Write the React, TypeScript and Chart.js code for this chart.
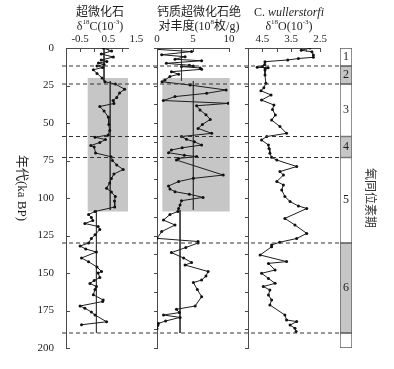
import React, { useEffect, useRef } from 'react';
import { Chart, registerables } from 'chart.js';

Chart.register(...registerables);

// ---------------- data ----------------
const depthTicks = [0, 25, 50, 75, 100, 125, 150, 175, 200];
const depthMinorTicks = [0, 12.5, 25, 37.5, 50, 62.5, 75, 87.5, 100, 112.5, 125, 137.5, 150, 162.5, 175, 187.5, 200];

// nannofossil carbon isotope
const carbonAges = [0, 2, 4, 6, 8, 9, 10, 11, 12, 13, 14.5, 17, 20, 22.5, 24, 27.5, 30, 33, 35, 37, 39, 42, 46, 51, 55, 58, 59.5, 61, 63, 65, 66, 70, 72.5, 75, 78, 81, 84, 87, 90, 93.5, 96, 99, 102, 106, 109, 111, 113, 115, 117, 119, 121, 124.5, 127, 130, 132, 134, 136, 140, 142.5, 146, 149, 150, 153, 155, 157, 159, 161, 164.5, 168, 169, 172, 173.5, 176, 178, 182.5, 184.5];
const carbonValues = [0.32, 0.62, 0.25, 0.68, 0.25, 0.45, 0.15, 0.35, 0.1, 0.3, -0.03, 0.1, 0.28, 0.38, 0.75, 1.08, 0.9, 0.8, 0.67, 0.7, 0.2, 0.35, 0.5, 0.52, 0.55, 0.5, 0.03, 0.4, 0.2, -0.12, 0.0, 0.05, 0.6, 0.65, 0.8, 1.03, 0.7, 0.61, 0.55, 0.44, 0.61, 0.75, 0.72, 0.73, 0.03, -0.2, -0.1, -0.05, -0.33, 0.14, 0.2, 0.03, -0.1, -0.2, -0.5, -0.3, 0.08, -0.45, -0.2, 0.1, 0.26, 0.14, 0.2, 0.0, -0.15, 0.08, 0.03, -0.03, 0.32, 0.3, -0.5, -0.33, -0.1, 0.03, 0.44, -0.45];
const carbonMeanBreaks = [0, 22, 108, 190];
const carbonMeans = [0.35, 0.57, 0.08];
const carbonShadeX = [-0.23, 1.2];
const carbonTickLabels = [-0.5, 0.5, 1.5];
const carbonTickMarks = [-0.5, 0, 0.5, 1.0];

// absolute abundance of calcareous nannofossils
const abundAges = [0.9, 2.4, 4.5, 5.8, 7.5, 8.5, 10.2, 11.5, 12, 12.4, 13.3, 14.2, 15.8, 17.5, 19, 21.3, 22.5, 24.7, 28, 30.2, 32.4, 35, 36.9, 38.5, 41.3, 44.5, 47.6, 51, 53.6, 56.9, 59, 60.9, 62.5, 64.7, 66.5, 68, 69.8, 71.5, 72.4, 73.6, 74.7, 84.7, 86.9, 89, 92, 94, 95.8, 97.5, 99.6, 101.8, 104.7, 107, 109, 111, 114.7, 118, 122.4, 126.9, 129, 130, 133, 136.4, 140, 143, 144.7, 149, 152, 154.7, 156.4, 161, 165.8, 172, 174.2, 176.4, 178, 179.6, 182, 183.6, 185, 187];
const abundValues = [0, 4.8, 0.65, 3.9, 2.5, 6.2, 1.3, 4.5, 5.05, 3.4, 6.0, 6.2, 2.0, 3.0, 1.8, 1.1, 0.7, 4.6, 9.6, 6.9, 2.5, 0.88, 9.9, 5.5, 5.97, 6.8, 7.4, 6.3, 5.7, 7.6, 3.4, 4.1, 5.2, 6.2, 3.5, 2.0, 1.6, 3.8, 5.5, 3.0, 2.7, 9.2, 5.05, 3.0, 1.6, 1.8, 2.5, 4.5, 6.4, 3.4, 3.2, 3.0, 2.9, 1.8, 0.9, 2.5, 0.65, 0, 5.7, 5.7, 4.0, 2.0, 3.7, 4.8, 3.9, 7.1, 6.8, 6.2, 5.05, 5.6, 6.2, 5.3, 2.7, 3.1, 0.9, 3.2, 1.2, 0.2, 0.1, 0];
const abundMeanBreaks = [0, 22, 108, 190];
const abundMeans = [3.4, 5.05, 3.2];
const abundShadeX = [0.74, 10.1];
const abundTickLabels = [0, 5, 10];
const abundTickMarks = [0, 5, 10];

// C. wullerstorfi oxygen isotope
const oxyAges = [0, 1.5, 2.5, 4.7, 6.2, 7, 8, 9.1, 11, 12.4, 12.9, 13.2, 13.6, 14.7, 18, 23.5, 26.5, 28.5, 31.3, 34.7, 38, 41, 44.7, 48, 52.4, 56.9, 59, 61.3, 64.7, 67, 70.2, 72.9, 74.7, 79, 82.4, 84.7, 89, 91.3, 94.7, 99, 102.4, 105.3, 107, 113.6, 118, 123.6, 127, 129.5, 131.3, 132.5, 138, 142.4, 143.6, 148, 150.2, 153.6, 156.9, 159, 161.3, 164.7, 168, 171.3, 178, 181.3, 182.4, 184.7, 186.9, 189];
const oxyValues = [2.85, 3.15, 2.78, 2.73, 2.73, 3.25, 3.62, 4.41, 4.42, 4.5, 4.68, 4.3, 4.4, 4.41, 4.41, 4.38, 4.45, 4.55, 4.2, 4.53, 4.1, 4.15, 4.05, 4.18, 3.89, 3.66, 4.35, 4.53, 4.29, 4.27, 4.24, 4.18, 4.0, 3.31, 3.89, 3.77, 4.0, 3.77, 3.83, 3.72, 3.54, 3.25, 2.96, 3.72, 3.37, 2.96, 3.31, 3.9, 4.18, 4.18, 4.58, 3.66, 4.29, 4.06, 4.53, 4.29, 4.06, 4.47, 4.24, 4.29, 4.18, 4.24, 3.72, 3.66, 3.31, 3.54, 3.37, 3.33];
const oxyTickLabels = [4.5, 3.5, 2.5];
const oxyTickMarks = [4.5, 4.0, 3.5, 3.0, 2.5];

const shadeAges = [20, 109];
const stageBounds = [0, 12, 24, 59, 73, 130, 190, 200];
const stageNames = ['1', '2', '3', '4', '5', '6', ''];
const stageShaded = [false, true, false, true, false, true, false];

// ---------------- styling ----------------
const W = 394;
const H = 369;
const FONT = "'Liberation Serif', 'Noto Sans CJK SC', serif";
const INK = '#1e1e1e';
const AXIS = '#4a4a4a';
const SHADE = '#c6c6c6';
const TOP = 48;
const BOTTOM_PAD = H - 348;

type Seg = { t: string; sup?: boolean; it?: boolean };

function drawSegLine(ctx: CanvasRenderingContext2D, segs: Seg[], cx: number, cy: number, size: number) {
  const fontFor = (s: Seg) => `${s.it ? 'italic ' : ''}${s.sup ? Math.round(size * 0.62) : size}px ${FONT}`;
  let total = 0;
  const widths = segs.map((s) => {
    ctx.font = fontFor(s);
    const w = ctx.measureText(s.t).width;
    total += w;
    return w;
  });
  let x = cx - total / 2;
  segs.forEach((s, i) => {
    ctx.font = fontFor(s);
    ctx.fillText(s.t, x, s.sup ? cy - size * 0.33 : cy);
    x += widths[i];
  });
}

function makePanelPlugin(opts: {
  shadeX: number[];
  xMarks: number[];
  yMarks: number[];
  yMarkLen: number;
  title: Seg[][];
  titleDx: number;
}) {
  return {
    id: 'panelExtras',
    beforeDatasetsDraw(chart: any) {
      const { x, y } = chart.scales;
      const ctx = chart.ctx as CanvasRenderingContext2D;
      const x0 = x.getPixelForValue(opts.shadeX[0]);
      const x1 = x.getPixelForValue(opts.shadeX[1]);
      const y0 = y.getPixelForValue(shadeAges[0]);
      const y1 = y.getPixelForValue(shadeAges[1]);
      ctx.save();
      ctx.fillStyle = SHADE;
      ctx.fillRect(Math.min(x0, x1), Math.min(y0, y1), Math.abs(x1 - x0), Math.abs(y1 - y0));
      ctx.restore();
    },
    afterDraw(chart: any) {
      const { x, y } = chart.scales;
      const area = chart.chartArea;
      const ctx = chart.ctx as CanvasRenderingContext2D;
      ctx.save();
      ctx.strokeStyle = AXIS;
      ctx.lineWidth = 1;
      opts.xMarks.forEach((v) => {
        const p = Math.round(x.getPixelForValue(v)) + 0.5;
        ctx.beginPath();
        ctx.moveTo(p, area.top);
        ctx.lineTo(p, area.top + 4);
        ctx.stroke();
      });
      opts.yMarks.forEach((v) => {
        const p = Math.round(y.getPixelForValue(v)) + 0.5;
        ctx.beginPath();
        ctx.moveTo(area.left, p);
        ctx.lineTo(area.left + opts.yMarkLen, p);
        ctx.stroke();
      });
      ctx.fillStyle = INK;
      ctx.textAlign = 'left';
      ctx.textBaseline = 'middle';
      const cx = (area.left + area.right) / 2 + opts.titleDx;
      opts.title.forEach((line, i) => drawSegLine(ctx, line, cx, 13 + i * 13.5, 12));
      ctx.restore();
    },
  };
}

type PanelSpec = {
  ages: number[];
  values: number[];
  meanBreaks?: number[];
  means?: number[];
  shadeX: number[];
  xMin: number;
  xMax: number;
  reverse: boolean;
  tickLabels: number[];
  tickMarks: number[];
  fmt: (v: number) => string;
  yWidth: number;
  padRight: number;
  showYLabels: boolean;
  yMarks: number[];
  yMarkLen: number;
  title: Seg[][];
  titleDx: number;
};

function panelConfig(p: PanelSpec): any {
  const datasets: any[] = [
    {
      data: p.ages.map((a, i) => ({ x: p.values[i], y: a })),
      showLine: true,
      borderColor: INK,
      borderWidth: 1,
      pointRadius: 1.5,
      pointBackgroundColor: '#111',
      pointBorderWidth: 0,
      order: 1,
    },
  ];
  if (p.means && p.meanBreaks) {
    p.means.forEach((m, i) => {
      datasets.push({
        data: [
          { x: m, y: p.meanBreaks![i] },
          { x: m, y: p.meanBreaks![i + 1] },
        ],
        showLine: true,
        borderColor: '#3c3c3c',
        borderWidth: 1,
        pointRadius: 0,
        order: 2,
      });
    });
  }
  const tickFont = { family: FONT, size: 11 };
  return {
    type: 'scatter',
    data: { datasets },
    options: {
      animation: false,
      responsive: true,
      maintainAspectRatio: false,
      layout: { padding: { left: 0, right: p.padRight, top: 0, bottom: BOTTOM_PAD } },
      plugins: { legend: { display: false }, tooltip: { enabled: false } },
      scales: {
        x: {
          type: 'linear',
          position: 'top',
          min: p.xMin,
          max: p.xMax,
          reverse: p.reverse,
          grid: { display: false, drawTicks: false },
          border: { display: true, color: AXIS, width: 1 },
          ticks: {
            font: tickFont,
            color: INK,
            padding: 2,
            autoSkip: false,
            maxRotation: 0,
            callback: (v: any) => p.fmt(Number(v)),
          },
          afterBuildTicks: (scale: any) => {
            scale.ticks = p.tickLabels.map((v) => ({ value: v }));
          },
          afterFit: (scale: any) => {
            scale.height = TOP;
            scale.paddingLeft = 0;
            scale.paddingRight = 0;
          },
        },
        y: {
          type: 'linear',
          position: 'left',
          min: 0,
          max: 200,
          reverse: true,
          grid: { display: false, drawTicks: false },
          border: { display: true, color: AXIS, width: 1 },
          ticks: {
            display: p.showYLabels,
            font: tickFont,
            color: INK,
            padding: 12,
            stepSize: 25,
            autoSkip: false,
          },
          afterBuildTicks: (scale: any) => {
            scale.ticks = depthTicks.map((v) => ({ value: v }));
          },
          afterFit: (scale: any) => {
            scale.width = p.yWidth;
            scale.paddingTop = 0;
            scale.paddingBottom = 0;
          },
        },
      },
    },
    plugins: [
      makePanelPlugin({
        shadeX: p.shadeX,
        xMarks: p.tickMarks,
        yMarks: p.yMarks,
        yMarkLen: p.yMarkLen,
        title: p.title,
        titleDx: p.titleDx,
      }),
    ],
  };
}

function stageConfig(): any {
  return {
    type: 'bar',
    data: {
      labels: ['stage'],
      datasets: stageNames.map((_, i) => ({
        data: [[stageBounds[i], stageBounds[i + 1]]],
        backgroundColor: stageShaded[i] ? SHADE : '#ffffff',
        borderColor: '#5a5a5a',
        borderWidth: 1,
        borderSkipped: false,
        grouped: false,
        barPercentage: 1,
        categoryPercentage: 1,
      })),
    },
    options: {
      animation: false,
      responsive: true,
      maintainAspectRatio: false,
      layout: { padding: { left: 10, right: 42, top: TOP, bottom: BOTTOM_PAD } },
      plugins: { legend: { display: false }, tooltip: { enabled: false } },
      scales: {
        x: { display: false },
        y: { display: false, min: 0, max: 200, reverse: true },
      },
    },
    plugins: [
      {
        id: 'stageNames',
        afterDraw(chart: any) {
          const ctx = chart.ctx as CanvasRenderingContext2D;
          const y = chart.scales.y;
          const area = chart.chartArea;
          ctx.save();
          ctx.fillStyle = INK;
          ctx.font = `12px ${FONT}`;
          ctx.textAlign = 'center';
          ctx.textBaseline = 'middle';
          stageNames.forEach((n, i) => {
            if (!n) return;
            const mid = y.getPixelForValue((stageBounds[i] + stageBounds[i + 1]) / 2);
            ctx.fillText(n, (area.left + area.right) / 2, mid);
          });
          ctx.restore();
        },
      },
    ],
  };
}

function overlayConfig(): any {
  const bounds = stageBounds.slice(1, stageBounds.length - 1);
  return {
    type: 'scatter',
    data: {
      datasets: bounds.map((b) => ({
        data: [
          { x: 0, y: b },
          { x: 1, y: b },
        ],
        showLine: true,
        borderColor: '#333',
        borderWidth: 1,
        borderDash: [4, 3],
        pointRadius: 0,
      })),
    },
    options: {
      animation: false,
      responsive: true,
      maintainAspectRatio: false,
      layout: { padding: { left: 62, right: W - 340, top: TOP, bottom: BOTTOM_PAD } },
      plugins: { legend: { display: false }, tooltip: { enabled: false } },
      scales: {
        x: { display: false, min: 0, max: 1 },
        y: { display: false, min: 0, max: 200, reverse: true },
      },
    },
    plugins: [
      {
        id: 'sideLabels',
        afterDraw(chart: any) {
          const ctx = chart.ctx as CanvasRenderingContext2D;
          ctx.save();
          ctx.fillStyle = INK;
          ctx.textAlign = 'center';
          ctx.textBaseline = 'middle';
          ctx.font = `13px ${FONT}`;
          ctx.translate(21, 188);
          ctx.rotate(Math.PI / 2);
          ctx.fillText('年代(ka BP)', 0, 0);
          ctx.restore();
          ctx.save();
          ctx.fillStyle = '#333';
          ctx.textAlign = 'center';
          ctx.textBaseline = 'middle';
          ctx.font = `12px ${FONT}`;
          ctx.translate(369, 198);
          ctx.rotate(Math.PI / 2);
          ctx.fillText('氧同位素期', 0, 0);
          ctx.restore();
        },
      },
    ],
  };
}

function ChartBox({ left, width, z, make }: { left: number; width: number; z: number; make: () => any }) {
  const ref = useRef<HTMLCanvasElement>(null);
  useEffect(() => {
    const chart = new Chart(ref.current as HTMLCanvasElement, make());
    return () => chart.destroy();
  }, []);
  return (
    <div style={{ position: 'absolute', left, top: 0, width, height: H, zIndex: z, pointerEvents: 'none' }}>
      <canvas ref={ref} />
    </div>
  );
}

export default function App() {
  const fmt1 = (v: number) => v.toFixed(1);
  return (
    <div style={{ position: 'fixed', left: 0, top: 0, width: W, height: H, background: '#fff', overflow: 'hidden' }}>
      <ChartBox
        left={0}
        width={150}
        z={1}
        make={() =>
          panelConfig({
            ages: carbonAges,
            values: carbonValues,
            meanBreaks: carbonMeanBreaks,
            means: carbonMeans,
            shadeX: carbonShadeX,
            xMin: -1,
            xMax: 1.2,
            reverse: false,
            tickLabels: carbonTickLabels,
            tickMarks: carbonTickMarks,
            fmt: fmt1,
            yWidth: 66,
            padRight: 22,
            showYLabels: true,
            yMarks: depthTicks,
            yMarkLen: 4,
            title: [[{ t: '超微化石' }], [{ t: 'δ' }, { t: '18', sup: true }, { t: 'C(10' }, { t: '-3', sup: true }, { t: ')' }]],
            titleDx: 3,
          })
        }
      />
      <ChartBox
        left={120}
        width={125}
        z={2}
        make={() =>
          panelConfig({
            ages: abundAges,
            values: abundValues,
            meanBreaks: abundMeanBreaks,
            means: abundMeans,
            shadeX: abundShadeX,
            xMin: 0,
            xMax: 10,
            reverse: false,
            tickLabels: abundTickLabels,
            tickMarks: abundTickMarks,
            fmt: (v) => String(v),
            yWidth: 37,
            padRight: 16,
            showYLabels: false,
            yMarks: depthMinorTicks,
            yMarkLen: -3,
            title: [[{ t: '钙质超微化石绝' }], [{ t: '对丰度(10' }, { t: '8', sup: true }, { t: '枚/g)' }]],
            titleDx: 6,
          })
        }
      />
      <ChartBox
        left={232}
        width={110}
        z={3}
        make={() =>
          panelConfig({
            ages: oxyAges,
            values: oxyValues,
            shadeX: [0, 0],
            xMin: 2.5,
            xMax: 5.0,
            reverse: true,
            tickLabels: oxyTickLabels,
            tickMarks: oxyTickMarks,
            fmt: fmt1,
            yWidth: 16,
            padRight: 22,
            showYLabels: false,
            yMarks: depthMinorTicks,
            yMarkLen: -3,
            title: [[{ t: 'C. ' }, { t: 'wullerstorfi', it: true }], [{ t: 'δ' }, { t: '18', sup: true }, { t: 'O(10' }, { t: '-3', sup: true }, { t: ')' }]],
            titleDx: 5,
          })
        }
      />
      <ChartBox left={330} width={64} z={4} make={stageConfig} />
      <ChartBox left={0} width={W} z={5} make={overlayConfig} />
    </div>
  );
}
